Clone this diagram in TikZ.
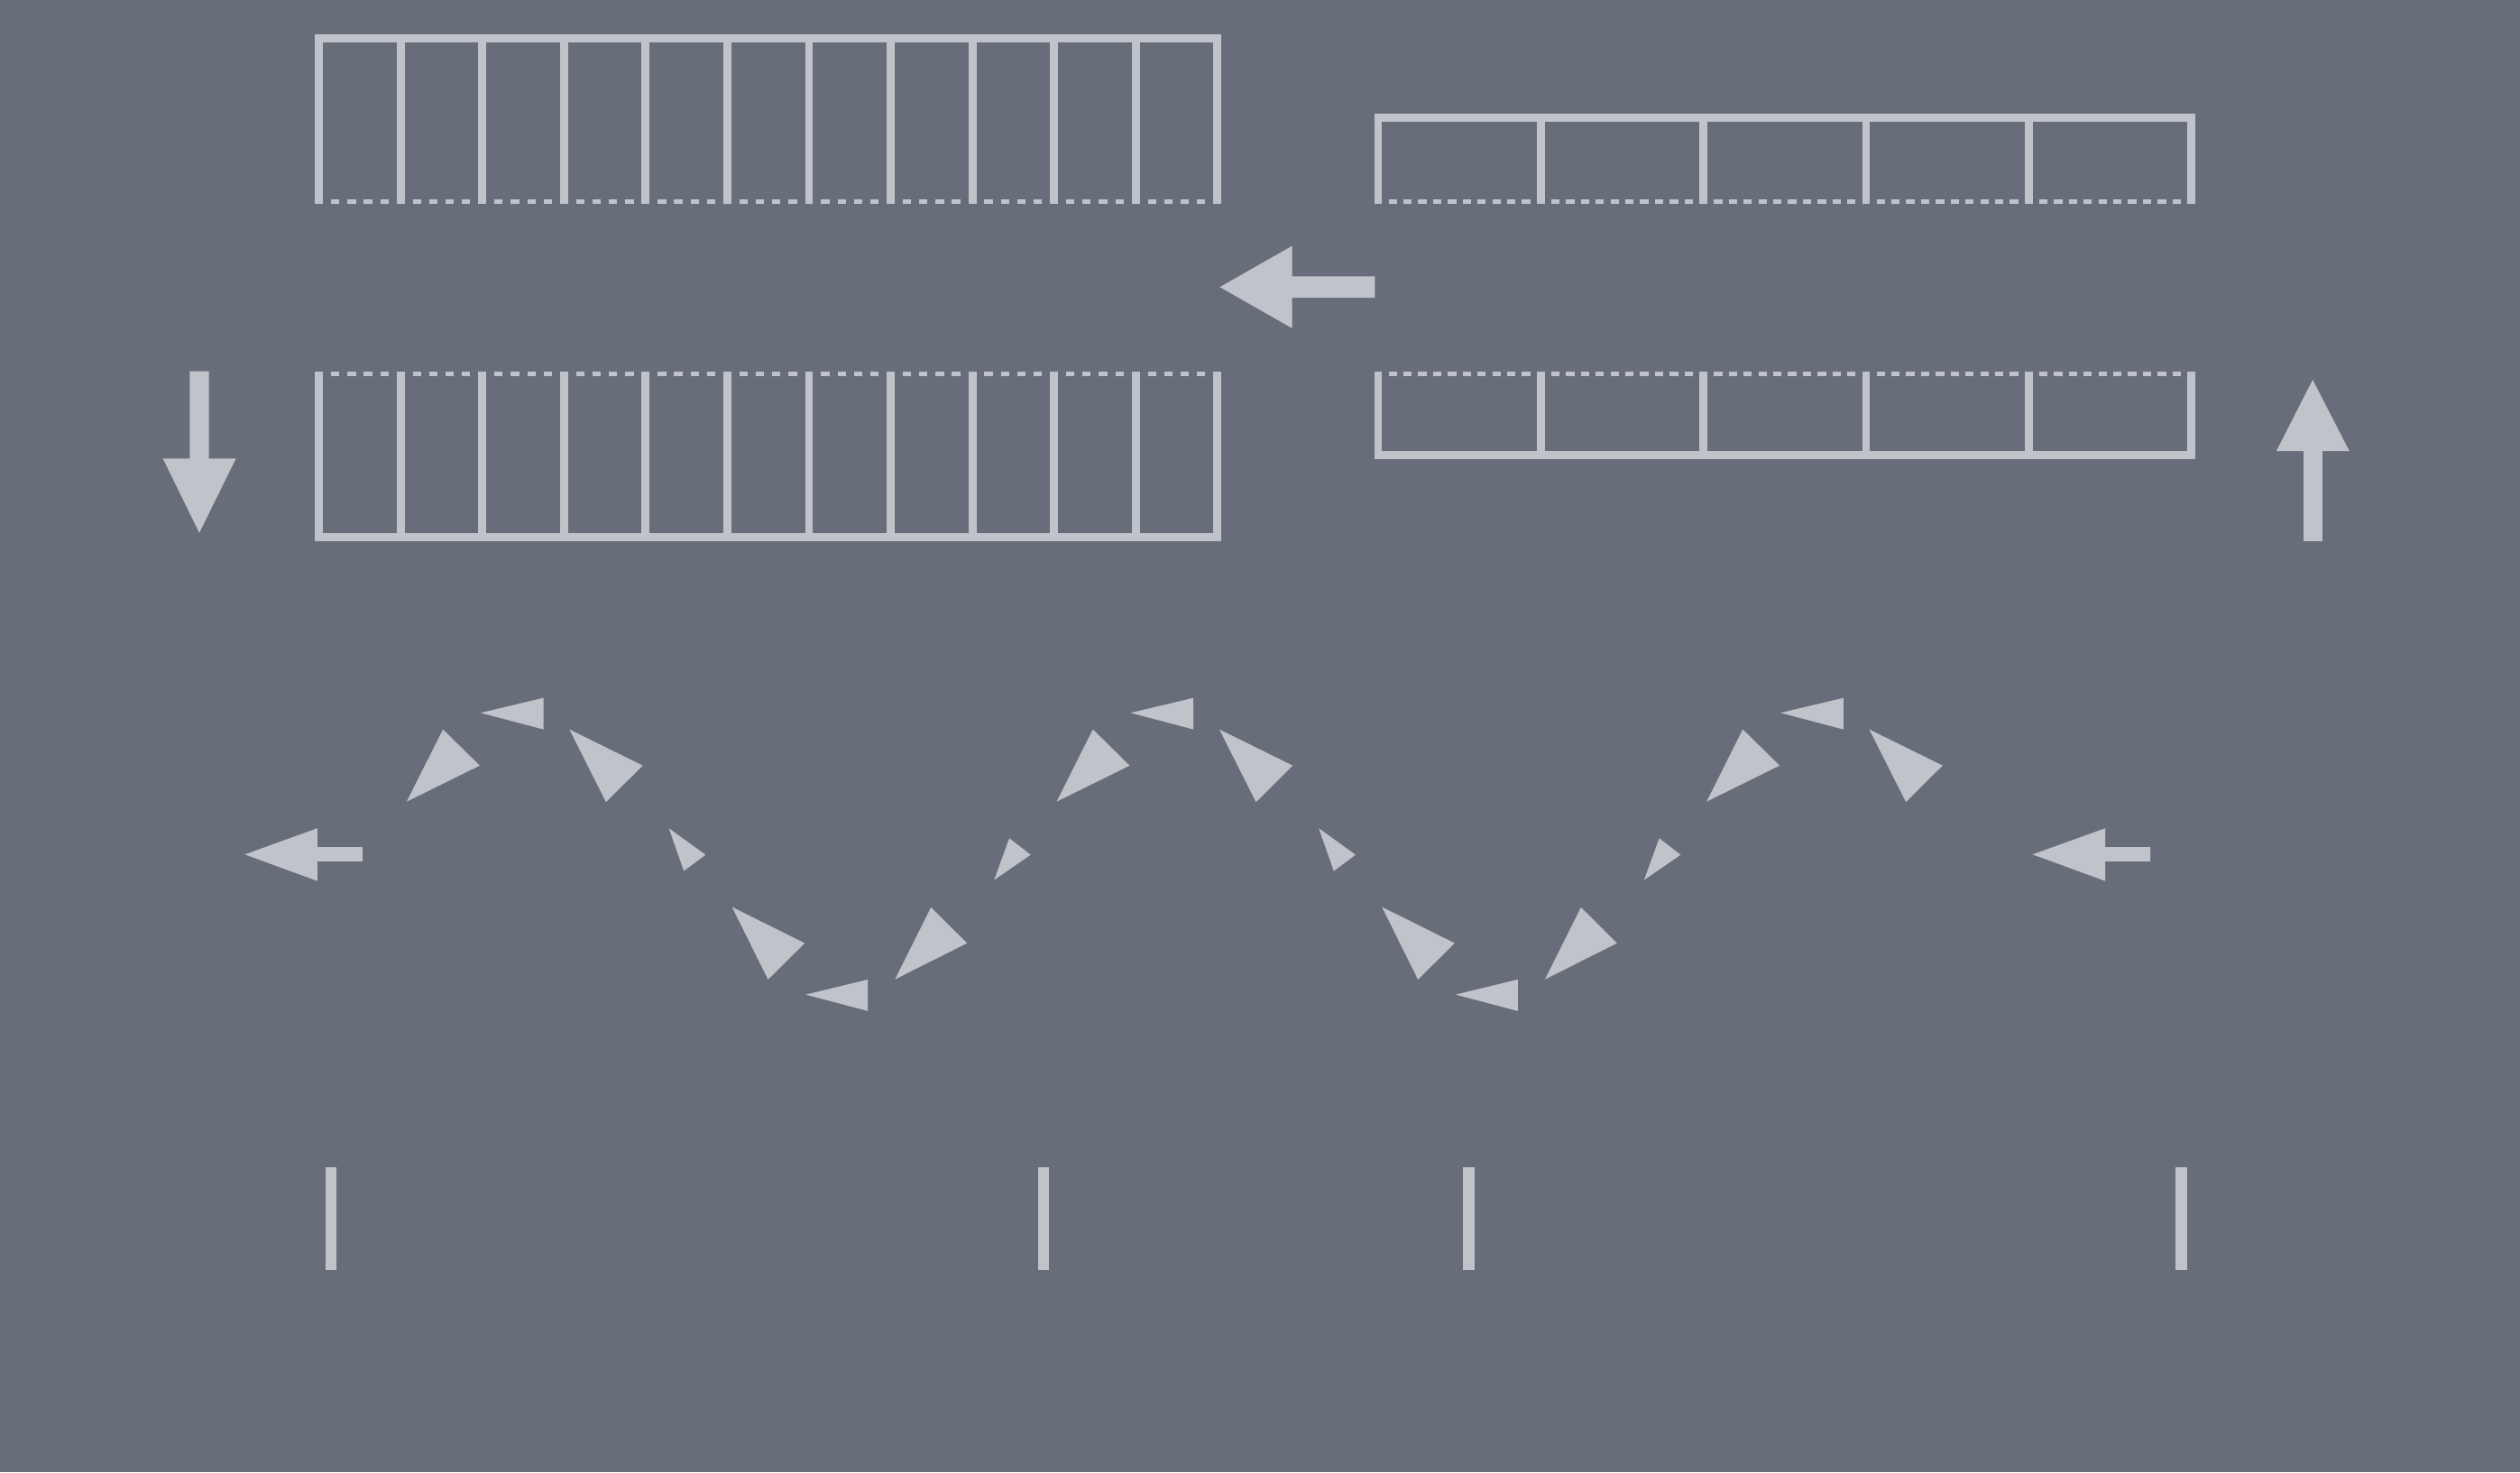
\documentclass[tikz,border=0pt]{standalone}
\definecolor{bgcol}{RGB}{104,110,121}
\definecolor{fgcol}{RGB}{192,195,201}
\begin{document}
\begin{tikzpicture}[x=1pt,y=-1pt,
  frame/.style={draw=fgcol,line width=5pt,line cap=butt,line join=miter},
  dashseg/.style={draw=fgcol,line width=2.8pt,line cap=butt},
  solidshape/.style={fill=fgcol}]
\fill[bgcol] (0,0) rectangle (1568,916);
\useasboundingbox (0,0) rectangle (1568,916);

% ---------- top-left box (11 cells, dashed bottom) ----------
\draw[frame] (198.5,126.8) -- (198.5,24) -- (757.5,24) -- (757.5,126.8);
\foreach \i in {1,...,10} \draw[frame] ({198.5+\i*50.818},24) -- ({198.5+\i*50.818},126.8);
\foreach \i in {0,...,10} \foreach \j in {0,...,3}
  \draw[dashseg] ({198.5+\i*50.818+2.5+5.0+\j*10.2},125.4) -- ++(5.2,0);

% ---------- top-right box (5 cells, dashed bottom) ----------
\draw[frame] (857.5,126.8) -- (857.5,73.2) -- (1363.5,73.2) -- (1363.5,126.8);
\foreach \i in {1,...,4} \draw[frame] ({857.5+\i*101.2},73.2) -- ({857.5+\i*101.2},126.8);
\foreach \i in {0,...,4} \foreach \j in {0,...,9}
  \draw[dashseg] ({857.5+\i*101.2+2.5+4.018+\j*9.218},125.4) -- ++(5.2,0);

% ---------- bottom-left box (11 cells, dashed top) ----------
\draw[frame] (198.5,231) -- (198.5,334.2) -- (757.5,334.2) -- (757.5,231);
\foreach \i in {1,...,10} \draw[frame] ({198.5+\i*50.818},231) -- ({198.5+\i*50.818},334.2);
\foreach \i in {0,...,10} \foreach \j in {0,...,3}
  \draw[dashseg] ({198.5+\i*50.818+2.5+5.0+\j*10.2},232.4) -- ++(5.2,0);

% ---------- bottom-right box (5 cells, dashed top) ----------
\draw[frame] (857.5,231) -- (857.5,283) -- (1363.5,283) -- (1363.5,231);
\foreach \i in {1,...,4} \draw[frame] ({857.5+\i*101.2},231) -- ({857.5+\i*101.2},283);
\foreach \i in {0,...,4} \foreach \j in {0,...,9}
  \draw[dashseg] ({857.5+\i*101.2+2.5+4.018+\j*9.218},232.4) -- ++(5.2,0);

% ---------- block arrows ----------
% middle left arrow
\fill[solidshape] (759,178.6) -- (804,153) -- (804,172) -- (855.5,172) -- (855.5,185.2)
  -- (804,185.2) -- (804,204.2) -- cycle;
% down arrow
\fill[solidshape] (118,231) -- (130,231) -- (130,285.3) -- (146.8,285.3) -- (124,331.5)
  -- (101.4,285.3) -- (118,285.3) -- cycle;
% up arrow
\fill[solidshape] (1433.4,336.7) -- (1445,336.7) -- (1445,280.6) -- (1461.8,280.6) -- (1439,236.3)
  -- (1416.4,280.6) -- (1433.4,280.6) -- cycle;

% ---------- wave: end arrows ----------
\foreach \dx in {0,1112.4}
  \fill[solidshape] ({152.3+\dx},531.6) -- ({197.5+\dx},515.3) -- ({197.5+\dx},527.1)
    -- ({225.6+\dx},527.1) -- ({225.6+\dx},535.9) -- ({197.5+\dx},535.9)
    -- ({197.5+\dx},548.1) -- cycle;

% ---------- wave: triangles ----------
\foreach \dx in {0,404.4,808.8} {
  \fill[solidshape] ({275.6+\dx},453.8) -- ({298.5+\dx},476.3) -- ({253.1+\dx},498.7) -- cycle;
  \fill[solidshape] ({299.1+\dx},443.5) -- ({338.2+\dx},434.2) -- ({338.2+\dx},453.8) -- cycle;
  \fill[solidshape] ({354.3+\dx},453.8) -- ({399.9+\dx},476.3) -- ({377.1+\dx},499.0) -- cycle;
}
\foreach \dx in {0,404.4} {
  \fill[solidshape] ({416.2+\dx},515.3) -- ({439.0+\dx},531.8) -- ({425.5+\dx},541.9) -- cycle;
  \fill[solidshape] ({455.5+\dx},564.3) -- ({500.7+\dx},586.8) -- ({477.9+\dx},609.4) -- cycle;
  \fill[solidshape] ({501.3+\dx},618.8) -- ({540.0+\dx},609.4) -- ({540.0+\dx},629.0) -- cycle;
  \fill[solidshape] ({556.9+\dx},609.3) -- ({579.3+\dx},564.5) -- ({601.7+\dx},586.8) -- cycle;
  \fill[solidshape] ({618.6+\dx},547.5) -- ({628.0+\dx},521.5) -- ({641.3+\dx},531.8) -- cycle;
}

% ---------- ticks ----------
\foreach \cx in {206,649.3,914,1357.3}
  \fill[solidshape] ({\cx-3.5},726.3) rectangle ({\cx+3.5},789.9);
\end{tikzpicture}
\end{document}
